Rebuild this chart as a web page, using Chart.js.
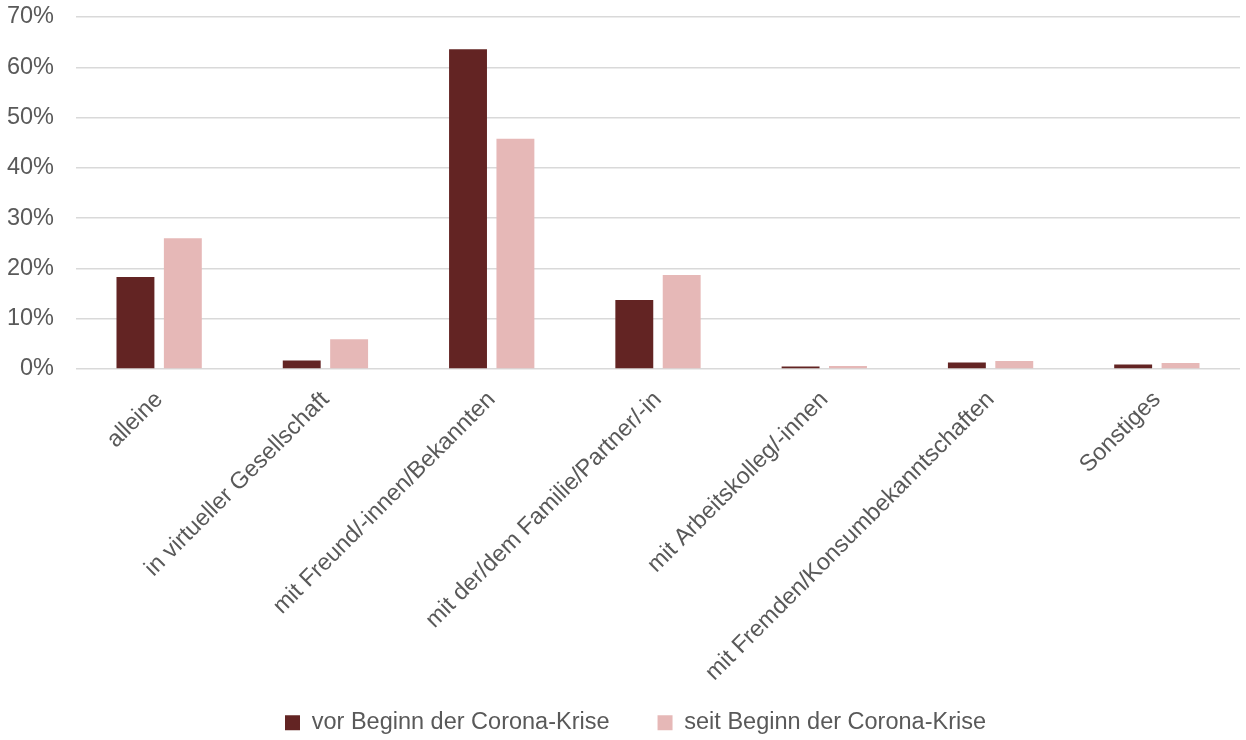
<!DOCTYPE html>
<html>
<head>
<meta charset="utf-8">
<script src="https://cdn.jsdelivr.net/npm/chart.js@4"></script>
<style>
  html, body { margin: 0; padding: 0; background: #ffffff; }
  #wrap { width: 1246px; height: 740px; position: relative; }
</style>
</head>
<body>
<div id="wrap"><canvas id="chart"></canvas></div>
<script>
// Categories (where / with whom)
const categories = [
  'alleine',
  'in virtueller Gesellschaft',
  'mit Freund/-innen/Bekannten',
  'mit der/dem Familie/Partner/-in',
  'mit Arbeitskolleg/-innen',
  'mit Fremden/Konsumbekanntschaften',
  'Sonstiges'
];

// Shares in percent
const vorBeginn  = [18.3, 1.7, 63.6, 13.7, 0.5, 1.3, 0.9];
const seitBeginn = [26.0, 5.9, 45.8, 18.7, 0.6, 1.6, 1.2];

// Series names
const seriesNames = ['vor Beginn der Corona-Krise', 'seit Beginn der Corona-Krise'];

// Y-axis ticks
const yTickValues = [0, 10, 20, 30, 40, 50, 60, 70];
const yTickLabels = ['0%', '10%', '20%', '30%', '40%', '50%', '60%', '70%'];

const FONT = 'Liberation Sans, Arial, sans-serif';
const TEXT = '#595959';

// Let the axis labels spill outside their own boxes without being clipped
const labelRoom = {
  id: 'labelRoom',
  afterLayout(chart) {
    chart.scales.x.bottom = chart.height;
    chart.scales.y.left = 0;
  }
};

new Chart(document.getElementById('chart'), {
  type: 'bar',
  data: {
    labels: categories,
    datasets: [
      {
        label: seriesNames[0],
        data: vorBeginn,
        backgroundColor: '#632423',
        categoryPercentage: 0.57,
        barPercentage: 0.8
      },
      {
        label: seriesNames[1],
        data: seitBeginn,
        backgroundColor: '#E6B8B7',
        categoryPercentage: 0.57,
        barPercentage: 0.8
      }
    ]
  },
  plugins: [labelRoom],
  options: {
    responsive: true,
    maintainAspectRatio: false,
    animation: false,
    layout: { padding: { top: 17, left: 31, right: 6, bottom: 0 } },
    plugins: {
      tooltip: { enabled: false },
      legend: {
        position: 'bottom',
        maxHeight: 77,
        labels: {
          font: { family: FONT, size: 23.5 },
          color: TEXT,
          boxWidth: 15,
          boxHeight: 15,
          padding: 48
        }
      }
    },
    scales: {
      x: {
        grid: { display: false },
        border: { display: false },
        ticks: {
          font: { family: FONT, size: 23.5 },
          color: TEXT,
          minRotation: 45,
          maxRotation: 45,
          autoSkip: false,
          padding: 9
        },
        afterFit: (scale) => {
          scale.paddingLeft = 0;
          scale.paddingRight = 0;
          scale.height = 294;
        }
      },
      y: {
        min: 0,
        max: 70,
        afterBuildTicks: (scale) => {
          scale.ticks = yTickValues.map(v => ({ value: v }));
        },
        ticks: {
          font: { family: FONT, size: 23.5 },
          color: TEXT,
          padding: 22,
          callback: (value) => yTickLabels[yTickValues.indexOf(value)]
        },
        grid: { color: '#D9D9D9', lineWidth: 1.5, drawTicks: false },
        border: { display: false },
        afterFit: (scale) => {
          scale.width = 45;
          scale.paddingTop = 0;
          scale.paddingBottom = 0;
        }
      }
    }
  }
});
</script>
</body>
</html>
